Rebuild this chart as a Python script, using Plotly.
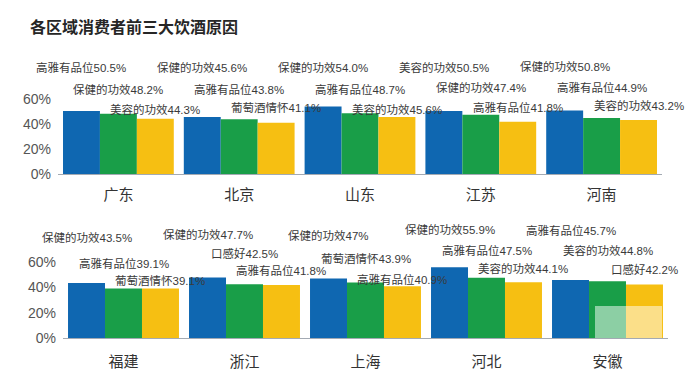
import plotly.graph_objects as go

# ---------------- data ----------------
title = "各区域消费者前三大饮酒原因"

top_regions = ["广东", "北京", "山东", "江苏", "河南"]
top_reasons = [
    ["高雅有品位", "保健的功效", "美容的功效"],
    ["保健的功效", "高雅有品位", "葡萄酒情怀"],
    ["保健的功效", "高雅有品位", "美容的功效"],
    ["美容的功效", "保健的功效", "高雅有品位"],
    ["保健的功效", "高雅有品位", "美容的功效"],
]
top_values = [
    [50.5, 48.2, 44.3],
    [45.6, 43.8, 41.1],
    [54.0, 48.7, 45.6],
    [50.5, 47.4, 41.8],
    [50.8, 44.9, 43.2],
]

bottom_regions = ["福建", "浙江", "上海", "河北", "安徽"]
bottom_reasons = [
    ["保健的功效", "高雅有品位", "葡萄酒情怀"],
    ["保健的功效", "口感好", "高雅有品位"],
    ["保健的功效", "葡萄酒情怀", "高雅有品位"],
    ["保健的功效", "高雅有品位", "美容的功效"],
    ["高雅有品位", "美容的功效", "口感好"],
]
bottom_values = [
    [43.5, 39.1, 39.1],
    [47.7, 42.5, 41.8],
    [47, 43.9, 40.9],
    [55.9, 47.5, 44.1],
    [45.7, 44.8, 42.2],
]

y_tickvals = [0, 20, 40, 60]
y_ticktext = ["0%", "20%", "40%", "60%"]

# label heights (axis units) for the staggered text rows
top_label_y = [
    [85.6, 68.0, 52.0],
    [85.6, 68.0, 52.8],
    [85.6, 68.0, 52.0],
    [85.6, 69.6, 53.6],
    [86.4, 69.6, 55.2],
]
bottom_label_y = [
    [79, 59, 45],
    [82, 67, 53],
    [81, 62, 46],
    [86, 69, 55],
    [85, 69, 54],
]

# ---------------- style ----------------
colors = ["#0f67b1", "#199e48", "#f6bf12"]
FONT = "Liberation Sans, Noto Sans CJK SC, sans-serif"
BARGAP = 0.083

fig = go.Figure()

panels = [
    ("x", "y", top_regions, top_reasons, top_values, top_label_y),
    ("x2", "y2", bottom_regions, bottom_reasons, bottom_values, bottom_label_y),
]

annotations = []
for xa, ya, regions, reasons, values, label_y in panels:
    for r in range(3):
        fig.add_trace(go.Bar(
            x=regions,
            y=[v[r] for v in values],
            marker=dict(color=colors[r], line=dict(width=0)),
            xaxis=xa, yaxis=ya,
            showlegend=False,
            hoverinfo="skip",
        ))
    bw = (1 - BARGAP) / 3
    for g in range(len(regions)):
        for r in range(3):
            annotations.append(dict(
                x=g + (r - 1) * bw,
                y=label_y[g][r],
                xref=xa, yref=ya,
                text=f"{reasons[g][r]}{values[g][r]}%",
                showarrow=False,
                font=dict(family=FONT, size=11.5, color="#3a3a3a"),
                xanchor="center", yanchor="middle",
            ))

annotations.append(dict(
    x=28 / 700, y=1 - 27 / 386, xref="paper", yref="paper",
    text="<b>" + title + "</b>", showarrow=False,
    xanchor="left", yanchor="middle",
    font=dict(family=FONT, size=16, color="#262626"),
))

xaxis_common = dict(
    type="category",
    range=[-0.5, 4.5],
    showline=True, linecolor="#a3aab3", linewidth=1,
    ticks="", showgrid=False, zeroline=False,
    tickfont=dict(family=FONT, size=15, color="#333333"),
    automargin=False,
)
yaxis_common = dict(
    range=[0, 90],
    tickvals=y_tickvals, ticktext=y_ticktext,
    showline=False, showgrid=False, zeroline=False, ticks="",
    tickfont=dict(family=FONT, size=14, color="#555555"),
    ticklabelstandoff=6,
    automargin=False,
)

# translucent watermark square (bottom right)
shapes = [dict(
    type="rect", xref="paper", yref="paper", layer="above",
    x0=595 / 700, x1=662 / 700, y0=1 - 338 / 386, y1=1 - 306 / 386,
    fillcolor="rgba(255,255,255,0.5)", line=dict(width=0),
)]

fig.update_layout(
    width=700, height=386,
    margin=dict(l=0, r=0, t=0, b=0),
    paper_bgcolor="white", plot_bgcolor="white",
    barmode="group", bargap=BARGAP, bargroupgap=0,
    xaxis=dict(domain=[58 / 700, 662 / 700], anchor="y", ticklabelstandoff=7, **xaxis_common),
    yaxis=dict(domain=[1 - 174 / 386, 1 - 61.5 / 386], anchor="x", **yaxis_common),
    xaxis2=dict(domain=[63 / 700, 668 / 700], anchor="y2", ticklabelstandoff=10, **xaxis_common),
    yaxis2=dict(domain=[1 - 338 / 386, 1 - 224 / 386], anchor="x2", **yaxis_common),
    annotations=annotations,
    shapes=shapes,
)

fig.write_html("out.html", config={"displayModeBar": False},
               post_script="document.body.style.margin='0px';")
